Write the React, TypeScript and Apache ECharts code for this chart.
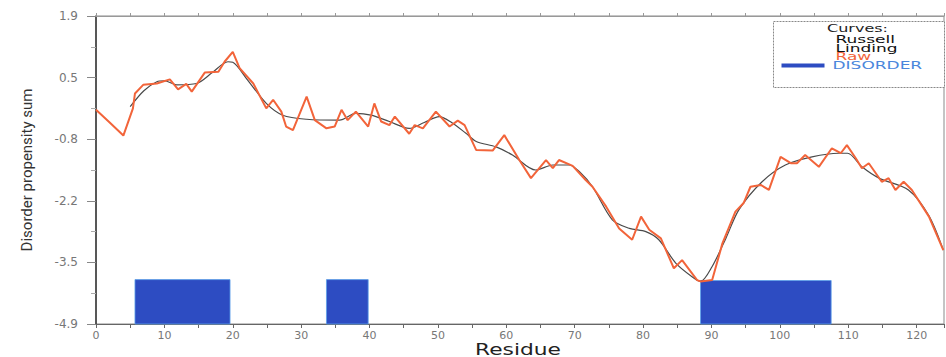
import React, { useEffect, useRef } from "react";
import * as echarts from "echarts";

// Raw disorder propensity (residue, value)
const rawResidues = [0, 2, 4, 5.4, 5.7, 6.9, 8.9, 10.8, 12.0, 13.2, 14.0, 15.9, 17.9, 18.8, 20.0, 21, 23, 24.9, 25.9, 27.1, 27.8, 28.8, 30.8, 32, 33.7, 34.9, 35.9, 36.8, 38, 39.8, 40.7, 41.7, 42.9, 43.7, 45.8, 46.6, 47.8, 49.7, 51.7, 52.9, 53.9, 55.6, 58, 59.7, 61.9, 63.6, 65.8, 66.8, 67.7, 69.7, 71.6, 72.6, 74.6, 76.5, 78.4, 79.7, 80.9, 82.6, 84.5, 85.7, 87.9, 88.4, 90.1, 91.6, 93.5, 94.7, 95.7, 97.2, 98.4, 100.1, 101.6, 102.5, 103.7, 105.7, 107.6, 108.9, 109.8, 111.1, 112, 113, 114.9, 115.9, 116.9, 118.1, 119.3, 121.8, 123.9];
const rawValues = [-0.17, -0.45, -0.74, -0.14, 0.19, 0.38, 0.41, 0.50, 0.28, 0.40, 0.23, 0.65, 0.67, 0.89, 1.11, 0.75, 0.41, -0.14, 0.05, -0.21, -0.54, -0.62, 0.12, -0.40, -0.58, -0.54, -0.17, -0.40, -0.21, -0.54, -0.03, -0.43, -0.51, -0.32, -0.70, -0.51, -0.58, -0.21, -0.54, -0.41, -0.51, -1.06, -1.07, -0.73, -1.28, -1.68, -1.28, -1.46, -1.28, -1.41, -1.72, -1.87, -2.31, -2.79, -3.04, -2.53, -2.82, -3.01, -3.67, -3.49, -3.93, -3.96, -3.93, -3.12, -2.42, -2.23, -1.87, -1.83, -1.94, -1.21, -1.35, -1.35, -1.17, -1.43, -1.02, -1.13, -0.95, -1.24, -1.46, -1.35, -1.76, -1.68, -1.94, -1.76, -1.94, -2.53, -3.27];

// Smoothed (Russell) curve
const russellResidues = [5, 7, 8.9, 10, 11.8, 14.7, 17, 19.3, 20, 22, 24.9, 27.3, 30.8, 35.6, 38, 40.2, 42.9, 45.8, 48, 50.2, 52, 54.1, 55.6, 58.5, 60.9, 64.3, 66.8, 69.2, 70.7, 72.6, 75.5, 78, 80.4, 82.3, 84.8, 87.2, 88.4, 90.1, 92.1, 94, 97.4, 100.8, 104.7, 108.6, 109.9, 112, 114.5, 118.8, 121.8, 123.9];
const russellValues = [-0.1, 0.25, 0.45, 0.47, 0.38, 0.41, 0.65, 0.89, 0.88, 0.52, -0.03, -0.29, -0.38, -0.40, -0.25, -0.29, -0.43, -0.58, -0.45, -0.32, -0.45, -0.69, -0.87, -0.99, -1.17, -1.50, -1.39, -1.39, -1.54, -1.87, -2.60, -2.79, -2.86, -3.04, -3.56, -3.86, -3.96, -3.63, -3.01, -2.38, -1.76, -1.39, -1.21, -1.13, -1.13, -1.43, -1.68, -1.94, -2.51, -3.27];

// Disorder regions
const disorderStart = [5.7, 33.7, 88.4];
const disorderEnd = [19.6, 39.8, 107.5];
const disorderTop = [-3.92, -3.92, -3.94];

const yMajorTicks = [-4.9, -3.54, -2.18, -0.82, 0.54, 1.9];
const yMinorTicks = [-4.22, -2.86, -1.5, -0.14, 1.22];
const legendLabels = ["Russell", "Linding", "Raw", "DISORDER"];
const xAxisTitle = "Residue";

const Y_MIN = -4.9;
const Y_MAX = 1.9;
const X_MIN = 0;
const X_MAX = 124;

export default function App() {
  const ref = useRef<HTMLDivElement>(null);
  useEffect(() => {
    if (!ref.current) return;
    const chart = echarts.init(ref.current, null, { renderer: "svg" });
    const rawData = rawResidues.map((x, i) => [x, rawValues[i]]);
    const russellData = russellResidues.map((x, i) => [x, russellValues[i]]);
    const disorderData = disorderStart.map((s, i) => [s, disorderEnd[i], disorderTop[i]]);
    const wideFont = "DejaVu Sans";
    const legendText = (text: string, x: number, y: number, fill: string) => ({
      type: "text",
      x,
      y,
      scaleX: 1.7,
      style: { text, fontFamily: wideFont, fontSize: 10, fill, verticalAlign: "middle" },
    });

    chart.setOption({
      animation: false,
      backgroundColor: "#ffffff",
      grid: {
        left: 96,
        right: 2,
        top: 16,
        bottom: 33,
        outerBoundsMode: "none",
        containLabel: false,
        show: true,
        borderColor: "#8a8a8a",
        borderWidth: 1,
        backgroundColor: "transparent",
      },
      xAxis: [
        {
          type: "value",
          min: X_MIN,
          max: X_MAX,
          interval: 5,
          position: "bottom",
          axisLine: { show: true, onZero: false, lineStyle: { color: "#666", width: 1 } },
          axisTick: { show: true, length: 4, lineStyle: { color: "#666" } },
          axisLabel: {
            margin: 6,
            fontFamily: wideFont,
            fontSize: 11,
            color: "#777",
            formatter: (v: number) => (Math.abs(v % 10) < 1e-9 ? String(v) : ""),
          },
          splitLine: { show: false },
        },
        {
          type: "value",
          min: X_MIN,
          max: X_MAX,
          interval: 5,
          position: "top",
          axisLine: { show: true, onZero: false, lineStyle: { color: "#999", width: 1 } },
          axisTick: { show: true, length: 3, lineStyle: { color: "#999" } },
          axisLabel: { show: false },
          splitLine: { show: false },
        },
      ],
      yAxis: [
        {
          type: "value",
          min: Y_MIN,
          max: Y_MAX,
          position: "left",
          name: "Disorder propensity sum",
          nameLocation: "middle",
          nameRotate: 90,
          nameGap: 62,
          nameMoveOverlap: false,
          nameTextStyle: { fontFamily: "Liberation Sans Narrow, Roboto", fontSize: 15, color: "#333" },
          axisLine: { show: true, onZero: false, lineStyle: { color: "#333", width: 1.5 } },
          axisTick: { show: true, length: 9, customValues: yMajorTicks, lineStyle: { color: "#888" } },
          axisLabel: {
            margin: 18,
            fontFamily: wideFont,
            fontSize: 12,
            color: "#777",
            customValues: yMajorTicks,
            formatter: (v: number) => v.toFixed(1),
          },
          splitLine: { show: false },
        },
        {
          type: "value",
          min: Y_MIN,
          max: Y_MAX,
          position: "left",
          axisLine: { show: false, onZero: false },
          axisTick: { show: true, length: 5, customValues: yMinorTicks, lineStyle: { color: "#aaa" } },
          axisLabel: { show: false },
          splitLine: { show: false },
        },
      ],
      series: [
        {
          name: "DISORDER",
          type: "custom",
          xAxisIndex: 0,
          yAxisIndex: 0,
          data: disorderData,
          z: 1,
          renderItem: (params: any, api: any) => {
            const p1 = api.coord([api.value(0), api.value(2)]);
            const p2 = api.coord([api.value(1), Y_MIN]);
            return {
              type: "rect",
              shape: { x: p1[0], y: p1[1], width: p2[0] - p1[0], height: p2[1] - p1[1] },
              style: { fill: "#2d4cc2", stroke: "#5aa0e8", lineWidth: 0.8 },
            };
          },
        },
        {
          name: "Russell",
          type: "line",
          data: russellData,
          smooth: 0.3,
          showSymbol: false,
          symbol: "none",
          z: 3,
          lineStyle: { color: "#4a4a4a", width: 1.2 },
        },
        {
          name: "Raw",
          type: "line",
          data: rawData,
          showSymbol: false,
          symbol: "none",
          z: 4,
          lineStyle: { color: "#f2643a", width: 2 },
        },
      ],
      graphic: [
        {
          type: "text",
          x: 518,
          y: 350,
          scaleX: 1.45,
          style: { text: xAxisTitle, fontFamily: wideFont, fontSize: 15, fill: "#222", align: "center", verticalAlign: "middle" },
        },
        {
          type: "group",
          left: 773,
          top: 21,
          children: [
            {
              type: "rect",
              shape: { x: 0, y: 0, width: 171, height: 66 },
              style: { fill: "#fff", stroke: "#888", lineWidth: 1, lineDash: [2, 1] },
            },
            {
              type: "text",
              x: 84,
              y: 7,
              scaleX: 1.6,
              style: { text: "Curves:", fontFamily: wideFont, fontSize: 10, fill: "#222", align: "center", verticalAlign: "middle" },
            },
            legendText(legendLabels[0], 62, 18, "#111"),
            legendText(legendLabels[1], 62, 26.5, "#111"),
            legendText(legendLabels[2], 62, 35, "#f2643a"),
            {
              type: "rect",
              shape: { x: 8, y: 42, width: 43, height: 4 },
              style: { fill: "#2d4cc2" },
            },
            legendText(legendLabels[3], 59, 44, "#4a86dc"),
          ],
        },
      ],
    });
    return () => chart.dispose();
  }, []);
  return <div ref={ref} style={{ position: "fixed", left: 0, top: 0, width: 946, height: 357 }} />;
}
